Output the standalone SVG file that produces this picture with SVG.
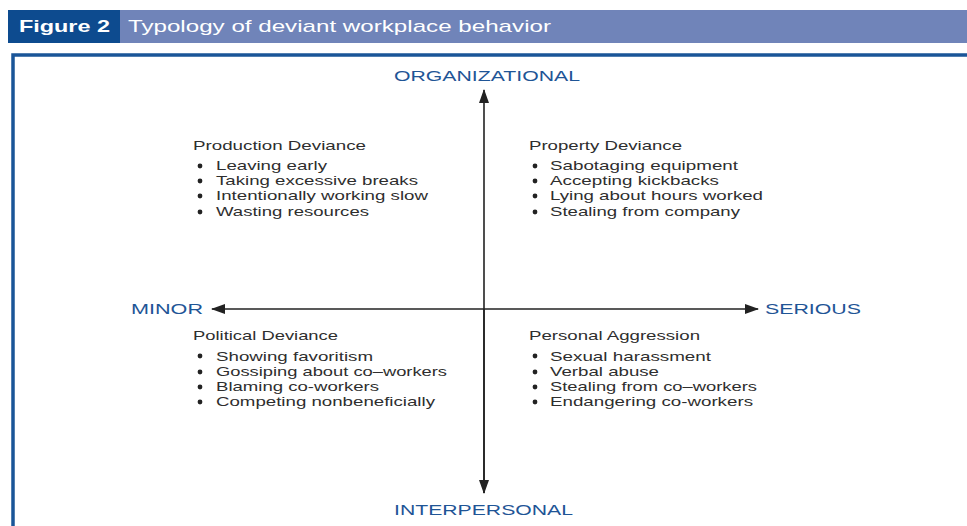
<svg xmlns="http://www.w3.org/2000/svg" width="967" height="526" viewBox="0 0 967 526">
<defs>
<style>
.hdr{font-family:"Liberation Sans",Arial,sans-serif;font-size:17px;fill:#fff}
.axis{font-family:"Liberation Sans",Arial,sans-serif;font-size:15.5px;fill:#1f5596}
.q{font-family:"Liberation Sans",Arial,sans-serif;font-size:13.5px;fill:#2e2e2e}
.ax{stroke:#222;stroke-width:1.6;fill:none}
.dot{fill:#222}
</style>
<marker id="ah" viewBox="0 0 14 10" refX="13" refY="5" markerWidth="14" markerHeight="10" markerUnits="userSpaceOnUse" orient="auto">
<path d="M0,0 L14,5 L0,10 Z" fill="#222"/>
</marker>
</defs>
<rect width="967" height="526" fill="#fff"/>
<g id="header">
<rect x="8" y="10" width="959" height="33" fill="#7084b9"/>
<rect x="8" y="10" width="112" height="33" fill="#0d4b8f"/>
<text class="hdr" x="19" y="32" font-weight="bold" textLength="91" lengthAdjust="spacingAndGlyphs">Figure 2</text>
<text class="hdr" x="128" y="32" textLength="423" lengthAdjust="spacingAndGlyphs">Typology of deviant workplace behavior</text>
</g>
<g id="frame">
<rect x="13" y="55" width="1000" height="500" fill="none" stroke="#1a5598" stroke-width="3.5"/>
</g>
<g id="connectors">
<line class="ax" x1="484" y1="493" x2="484" y2="90" marker-end="url(#ah)"/>
<line class="ax" x1="484" y1="309" x2="484" y2="493" marker-end="url(#ah)"/>
<line class="ax" x1="484" y1="309" x2="212" y2="309" marker-end="url(#ah)"/>
<line class="ax" x1="484" y1="309" x2="758" y2="309" marker-end="url(#ah)"/>
</g>
<g id="organizational"><text class="axis" x="394" y="81" textLength="186" lengthAdjust="spacingAndGlyphs">ORGANIZATIONAL</text></g>
<g id="interpersonal"><text class="axis" x="394" y="515" textLength="179" lengthAdjust="spacingAndGlyphs">INTERPERSONAL</text></g>
<g id="minor"><text class="axis" x="131" y="314" textLength="72" lengthAdjust="spacingAndGlyphs">MINOR</text></g>
<g id="serious"><text class="axis" x="765" y="314" textLength="96" lengthAdjust="spacingAndGlyphs">SERIOUS</text></g>
<g id="production-deviance">
<text class="q" x="193" y="150" textLength="173" lengthAdjust="spacingAndGlyphs">Production Deviance</text>
<circle class="dot" cx="200" cy="166" r="2.4"/><text class="q" x="216" y="170" textLength="111" lengthAdjust="spacingAndGlyphs">Leaving early</text>
<circle class="dot" cx="200" cy="181" r="2.4"/><text class="q" x="216" y="185" textLength="202" lengthAdjust="spacingAndGlyphs">Taking excessive breaks</text>
<circle class="dot" cx="200" cy="196" r="2.4"/><text class="q" x="216" y="200" textLength="212" lengthAdjust="spacingAndGlyphs">Intentionally working slow</text>
<circle class="dot" cx="200" cy="212" r="2.4"/><text class="q" x="216" y="216" textLength="153" lengthAdjust="spacingAndGlyphs">Wasting resources</text>
</g>
<g id="property-deviance">
<text class="q" x="529" y="150" textLength="153" lengthAdjust="spacingAndGlyphs">Property Deviance</text>
<circle class="dot" cx="535" cy="166" r="2.4"/><text class="q" x="550" y="170" textLength="188" lengthAdjust="spacingAndGlyphs">Sabotaging equipment</text>
<circle class="dot" cx="535" cy="181" r="2.4"/><text class="q" x="550" y="185" textLength="169" lengthAdjust="spacingAndGlyphs">Accepting kickbacks</text>
<circle class="dot" cx="535" cy="196" r="2.4"/><text class="q" x="550" y="200" textLength="213" lengthAdjust="spacingAndGlyphs">Lying about hours worked</text>
<circle class="dot" cx="535" cy="212" r="2.4"/><text class="q" x="550" y="216" textLength="190" lengthAdjust="spacingAndGlyphs">Stealing from company</text>
</g>
<g id="political-deviance">
<text class="q" x="193" y="340" textLength="145" lengthAdjust="spacingAndGlyphs">Political Deviance</text>
<circle class="dot" cx="200" cy="356" r="2.4"/><text class="q" x="216" y="361" textLength="157" lengthAdjust="spacingAndGlyphs">Showing favoritism</text>
<circle class="dot" cx="200" cy="372" r="2.4"/><text class="q" x="216" y="376" textLength="231" lengthAdjust="spacingAndGlyphs">Gossiping about co–workers</text>
<circle class="dot" cx="200" cy="387" r="2.4"/><text class="q" x="216" y="391" textLength="163" lengthAdjust="spacingAndGlyphs">Blaming co-workers</text>
<circle class="dot" cx="200" cy="402" r="2.4"/><text class="q" x="216" y="406" textLength="219" lengthAdjust="spacingAndGlyphs">Competing nonbeneficially</text>
</g>
<g id="personal-aggression">
<text class="q" x="529" y="340" textLength="171" lengthAdjust="spacingAndGlyphs">Personal Aggression</text>
<circle class="dot" cx="535" cy="356" r="2.4"/><text class="q" x="550" y="361" textLength="161" lengthAdjust="spacingAndGlyphs">Sexual harassment</text>
<circle class="dot" cx="535" cy="372" r="2.4"/><text class="q" x="550" y="376" textLength="109" lengthAdjust="spacingAndGlyphs">Verbal abuse</text>
<circle class="dot" cx="535" cy="387" r="2.4"/><text class="q" x="550" y="391" textLength="207" lengthAdjust="spacingAndGlyphs">Stealing from co–workers</text>
<circle class="dot" cx="535" cy="402" r="2.4"/><text class="q" x="550" y="406" textLength="203" lengthAdjust="spacingAndGlyphs">Endangering co-workers</text>
</g>
</svg>
